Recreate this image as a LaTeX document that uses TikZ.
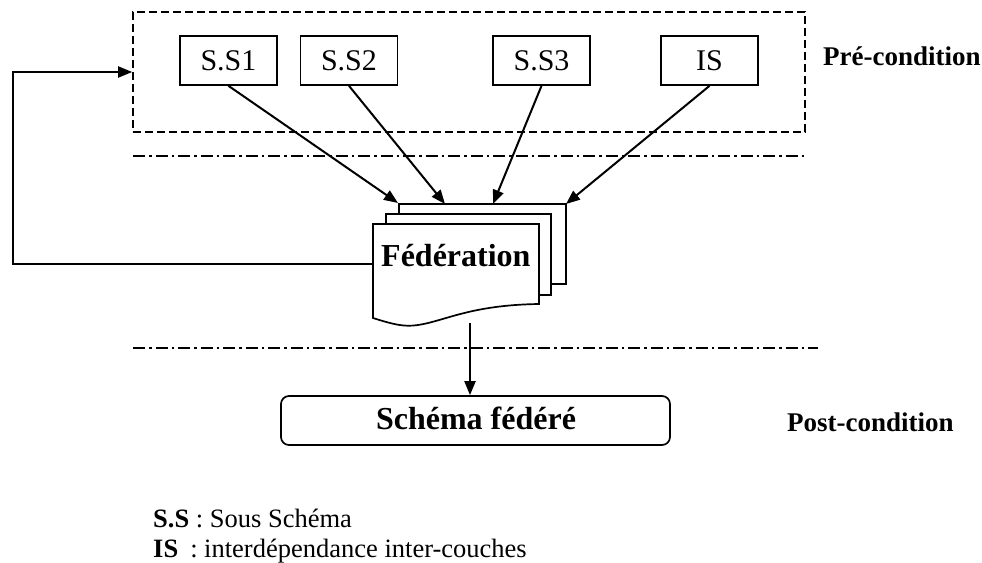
\documentclass[tikz,border=0pt]{standalone}
\usepackage{fontspec}
\setmainfont{Liberation Serif}
\usetikzlibrary{arrows.meta}
\begin{document}
\begin{tikzpicture}[x=1pt,y=-1pt,
  ln/.style={line width=2pt},
  arr/.style={ln,-{Triangle[length=14pt,width=11pt]}},
  ssbox/.style={draw,line width=1.7pt,minimum width=97pt,minimum height=49pt,inner sep=0pt,font=\fontsize{30}{36}\selectfont},
  doc/.style={draw,line width=1.7pt,fill=white},
  sep/.style={line width=1.6pt,dash pattern=on 12pt off 4pt on 2.5pt off 4pt},
  cond/.style={font=\fontsize{27}{32}\selectfont\bfseries,inner sep=0pt},
  legend/.style={font=\fontsize{26.5}{30}\selectfont,inner sep=0pt}]
\useasboundingbox (0,0) rectangle (982,562);
% pre-condition dashed frame
\node[draw,line width=1.6pt,dash pattern=on 8pt off 4pt,minimum width=672pt,minimum height=120pt,inner sep=0pt] (pre) at (469,72) {};
\node[ssbox] (s1) at (228.5,60.5) {S.S1};
\node[ssbox] (s2) at (349,60.5) {S.S2};
\node[ssbox] (s3) at (541.5,60.5) {S.S3};
\node[ssbox] (is) at (709.5,60.5) {IS};
\node[cond,anchor=base west] (prec) at (823,65) {Pré-condition};
% separators
\coordinate (l1a) at (133,156); \coordinate (l1b) at (805,156);
\draw[sep] (l1a) -- (l1b);
\coordinate (l2a) at (133,348); \coordinate (l2b) at (818,348);
\draw[sep] (l2a) -- (l2b);
% federation document stack
\draw[doc] (399,204) rectangle (566,284);
\draw[doc] (386,214) rectangle (551,295);
\draw[doc] (373,224) -- (539,224) -- (539,304)
  .. controls (470,305) and (445,321) .. (418,325)
  .. controls (405,327) and (395,325) .. (373,318) -- cycle;
\node[font=\fontsize{32}{38}\selectfont\bfseries,inner sep=0pt,anchor=base west] (fed) at (381,266) {Fédération};
\coordinate (t1) at (398,203);
\coordinate (t2) at (445,204);
\coordinate (t3) at (493,204);
\coordinate (t4) at (566,204);
\draw[arr] (s1.south) -- (t1);
\draw[arr] (s2.south) -- (t2);
\draw[arr] (s3.south) -- (t3);
\draw[arr] (is.south) -- (t4);
% feedback loop
\coordinate (fedw) at (373,264);
\coordinate (loopx) at (13,264);
\draw[arr] (fedw) -- (loopx) |- (pre.west);
% result
\node[draw,line width=1.7pt,rounded corners=8pt,minimum width=389pt,minimum height=49pt,inner sep=0pt] (sch) at (475.5,420.5) {};
\node[font=\fontsize{32}{38}\selectfont\bfseries,inner sep=0pt,anchor=base] (schl) at (476,429) {Schéma fédéré};
\coordinate (fedout) at (470,323);
\draw[arr] (fedout) -- (sch.north -| fedout);
\node[cond,anchor=base west] (postc) at (787,431) {Post-condition};
% legend
\node[legend,anchor=base west] (lg1) at (153,527) {\textbf{S.S} : Sous Schéma};
\node[legend,anchor=base west] (lg2) at (153,557) {\textbf{IS}\hspace{12pt}: interdépendance inter-couches};
\end{tikzpicture}
\end{document}
